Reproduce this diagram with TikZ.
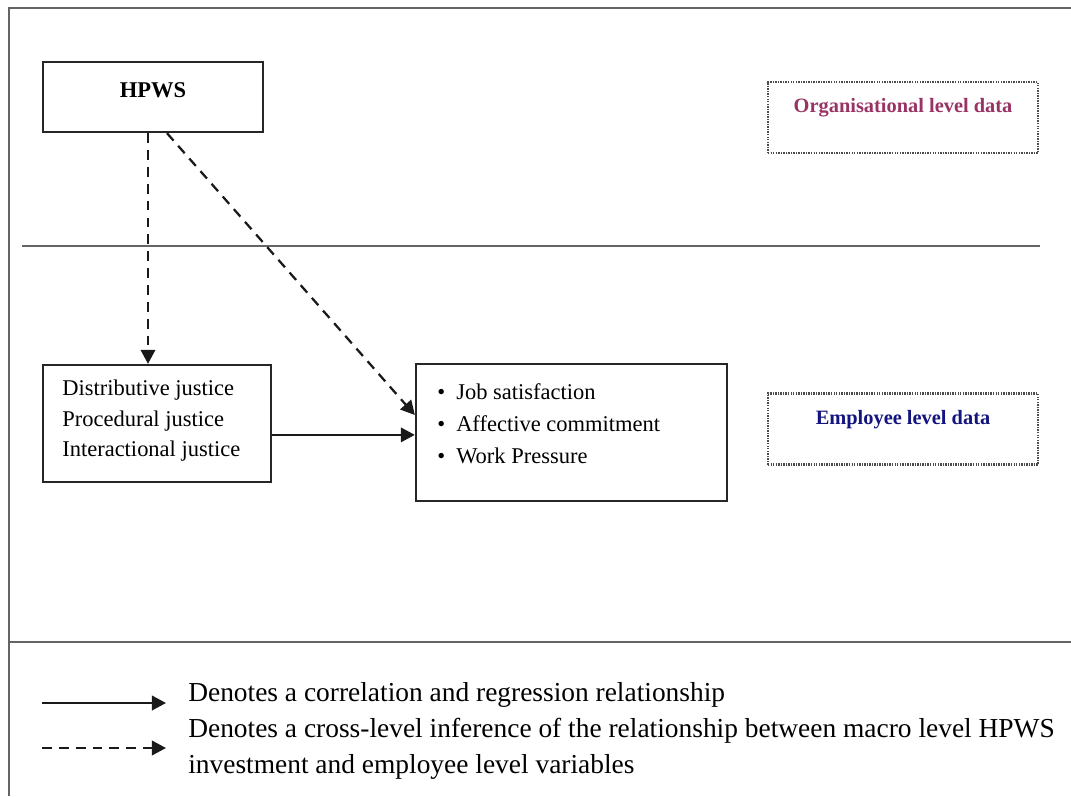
\documentclass[tikz,border=0pt]{standalone}
\usepackage{fontspec}
\setmainfont{Liberation Serif}
\usetikzlibrary{arrows.meta}
\definecolor{orgred}{RGB}{153,51,102}
\definecolor{empblue}{RGB}{20,20,128}
\definecolor{framegray}{RGB}{100,100,100}
\begin{document}
\begin{tikzpicture}[x=0.025cm, y=-0.025cm,
	box/.style = {draw = black!85, line width = 1.6pt, inner sep = 0pt},
	levelbox/.style = {draw = black!70, line width = 1.5pt, dash pattern = on 1pt off .8pt, inner sep = 0pt,
		minimum width = 6.75cm, minimum height = 1.775cm},
	boxtext/.style = {font = \fontsize{16}{21.7}\selectfont, align = left, inner sep = 0pt},
	leveltext/.style = {font = \fontsize{14.5}{17}\selectfont\bfseries, inner sep = 0pt},
	solidarrow/.style = {-{Triangle[length = .35cm, width = .36cm]}, line width = 1.6pt, black!90},
	dasharrow/.style = {solidarrow, dash pattern = on 7pt off 5pt}]
	\useasboundingbox (0, 0) rectangle (1071, 796);
	
	% frame
	\draw [framegray, line width = 1.6pt] (1071, 8) -- (9, 8) -- (9, 796);
	\draw [framegray, line width = 1.6pt] (22, 246) -- (1040, 246);
	\draw [framegray, line width = 1.6pt] (9, 642) -- (1071, 642);
	
	% boxes
	\node (hpws) [box, minimum width = 5.5cm, minimum height = 1.75cm] at (153, 97) {};
	\node (justice) [box, minimum width = 5.7cm, minimum height = 2.925cm] at (157, 423.5) {};
	\node (outcome) [box, minimum width = 7.775cm, minimum height = 3.425cm] at (571.5, 432.5) {};
	\node (orgbox) [levelbox] at (903, 117.5) {};
	\node (empbox) [levelbox] at (903, 429) {};
	
	% texts
	\node (hpwstext) [boxtext, font = \fontsize{16}{19}\selectfont\bfseries] at (153, 90) {HPWS};
	\node (justicetext) [boxtext, anchor = west] at (62, 421)
		{Distributive justice\\Procedural justice\\Interactional justice};
	\node (outcometext) [boxtext, anchor = west, font = \fontsize{16}{22.8}\selectfont] at (437, 424)
		{\makebox[13.5pt][l]{\textbullet}Job satisfaction\\
		 \makebox[13.5pt][l]{\textbullet}Affective commitment\\
		 \makebox[13.5pt][l]{\textbullet}Work Pressure};
	\node (orgtext) [leveltext, orgred] at (903, 108) {Organisational level data};
	\node (emptext) [leveltext, empblue] at (903, 420) {Employee level data};
	
	% lines
	\draw [dasharrow] ([xshift = -.125cm]hpws.south) -- ([xshift = -.125cm]hpws.south |- justice.north);
	\draw [dasharrow] ([xshift = .35cm]hpws.south) -- ([yshift = .4375cm]outcome.west);
	\draw [solidarrow] ([yshift = -.06cm]justice.east |- outcome.west) -- ([yshift = -.06cm]outcome.west);
	
	% legend
	\coordinate (solidfrom) at (42, 703);
	\coordinate (solidto) at (166, 703);
	\coordinate (dashfrom) at (42, 748);
	\coordinate (dashto) at (166, 748);
	\draw [solidarrow] (solidfrom) -- (solidto);
	\draw [dasharrow] (dashfrom) -- (dashto);
	\node (legendtext) [anchor = west, align = left, inner sep = 0pt, font = \fontsize{19.5}{25.9}\selectfont] at (188, 731)
		{Denotes a correlation and regression relationship\\
		 Denotes a cross-level inference of the relationship between macro level HPWS\\
		 investment and employee level variables};
\end{tikzpicture}
\end{document}
